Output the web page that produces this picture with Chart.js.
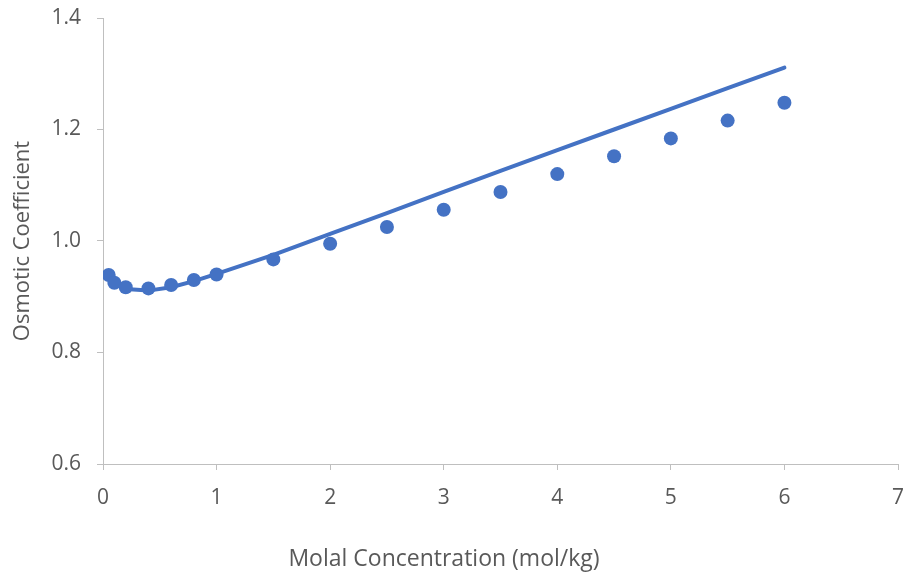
<!DOCTYPE html>
<html>
<head>
<meta charset="utf-8">
<script src="https://cdn.jsdelivr.net/npm/chart.js@4.4.1/dist/chart.umd.min.js"></script>
<style>
    html, body { margin: 0; padding: 0; background: #ffffff; }
    #wrap { width: 906px; height: 575px; position: relative; }
</style>
</head>
<body>
<div id="wrap"><canvas id="osmoticChart"></canvas></div>
<script>
// Molality (mol/kg)
const molality = [0.05, 0.1, 0.2, 0.4, 0.6, 0.8, 1.0, 1.5, 2.0, 2.5, 3.0, 3.5, 4.0, 4.5, 5.0, 5.5, 6.0];
// Measured osmotic coefficients (markers)
const measured = [0.939, 0.925, 0.917, 0.915, 0.921, 0.930, 0.940, 0.967, 0.995, 1.025, 1.056, 1.088, 1.120, 1.152, 1.184, 1.216, 1.248];
// Model curve (solid line)
const model = [0.938, 0.926, 0.914, 0.911, 0.917, 0.928, 0.941, 0.975, 1.013, 1.050, 1.088, 1.126, 1.163, 1.200, 1.237, 1.274, 1.311];

const xTicks = [0, 1, 2, 3, 4, 5, 6, 7];
const yTicks = [0.6, 0.8, 1.0, 1.2, 1.4];
const xTitle = 'Molal Concentration (mol/kg)';

const blue = '#4472C4';
const axisGray = '#bfbfbf';
const textGray = '#595959';
const fontFamily = "'Open Sans', sans-serif";

// x title is centred on the whole chart (like the spreadsheet), not on the plot area
const xTitlePlugin = {
    id: 'xTitle',
    afterDraw(chart) {
        const c = chart.ctx;
        c.save();
        c.fillStyle = textGray;
        c.font = '23px ' + fontFamily;
        c.textAlign = 'center';
        c.textBaseline = 'alphabetic';
        c.fillText(xTitle, chart.width / 2 - 9, 566);
        c.restore();
    }
};

document.addEventListener('DOMContentLoaded', () => {
    const ctx = document.getElementById('osmoticChart');

    new Chart(ctx, {
        type: 'scatter',
        data: {
            datasets: [
                {
                    label: 'Model',
                    data: molality.map((m, i) => ({ x: m, y: model[i] })),
                    showLine: true,
                    borderColor: blue,
                    borderWidth: 4,
                    borderCapStyle: 'round',
                    borderJoinStyle: 'round',
                    pointRadius: 0,
                    fill: false,
                    order: 2
                },
                {
                    label: 'Experimental',
                    data: molality.map((m, i) => ({ x: m, y: measured[i] })),
                    backgroundColor: blue,
                    borderColor: blue,
                    borderWidth: 0,
                    pointRadius: 7,
                    order: 1
                }
            ]
        },
        options: {
            responsive: true,
            maintainAspectRatio: false,
            animation: false,
            layout: {
                padding: { left: 0, right: 8, top: 18, bottom: 0 }
            },
            plugins: {
                legend: { display: false },
                tooltip: { enabled: false }
            },
            scales: {
                x: {
                    type: 'linear',
                    min: 0,
                    max: 7,
                    afterBuildTicks: (axis) => {
                        axis.ticks = xTicks.map(v => ({ value: v }));
                    },
                    afterFit: (axis) => {
                        axis.height = 111;
                        axis.paddingLeft = 0;
                        axis.paddingRight = 0;
                    },
                    grid: {
                        drawOnChartArea: false,
                        drawTicks: true,
                        tickLength: 6,
                        color: axisGray
                    },
                    border: { color: axisGray, width: 1 },
                    ticks: {
                        color: textGray,
                        padding: 15,
                        font: { family: fontFamily, size: 21 }
                    }
                },
                y: {
                    type: 'linear',
                    min: 0.6,
                    max: 1.4,
                    afterBuildTicks: (axis) => {
                        axis.ticks = yTicks.map(v => ({ value: v }));
                    },
                    afterFit: (axis) => {
                        axis.width = 103;
                        axis.paddingTop = 0;
                        axis.paddingBottom = 0;
                    },
                    grid: {
                        drawOnChartArea: false,
                        drawTicks: true,
                        tickLength: 6,
                        color: axisGray
                    },
                    border: { color: axisGray, width: 1 },
                    ticks: {
                        color: textGray,
                        padding: 16,
                        font: { family: fontFamily, size: 21 },
                        callback: (value) => value.toFixed(1)
                    },
                    title: {
                        display: true,
                        text: 'Osmotic Coefficient',
                        color: textGray,
                        font: { family: fontFamily, size: 22 },
                        padding: { top: 10, bottom: 0 }
                    }
                }
            }
        },
        plugins: [xTitlePlugin]
    });
});
</script>
</body>
</html>
